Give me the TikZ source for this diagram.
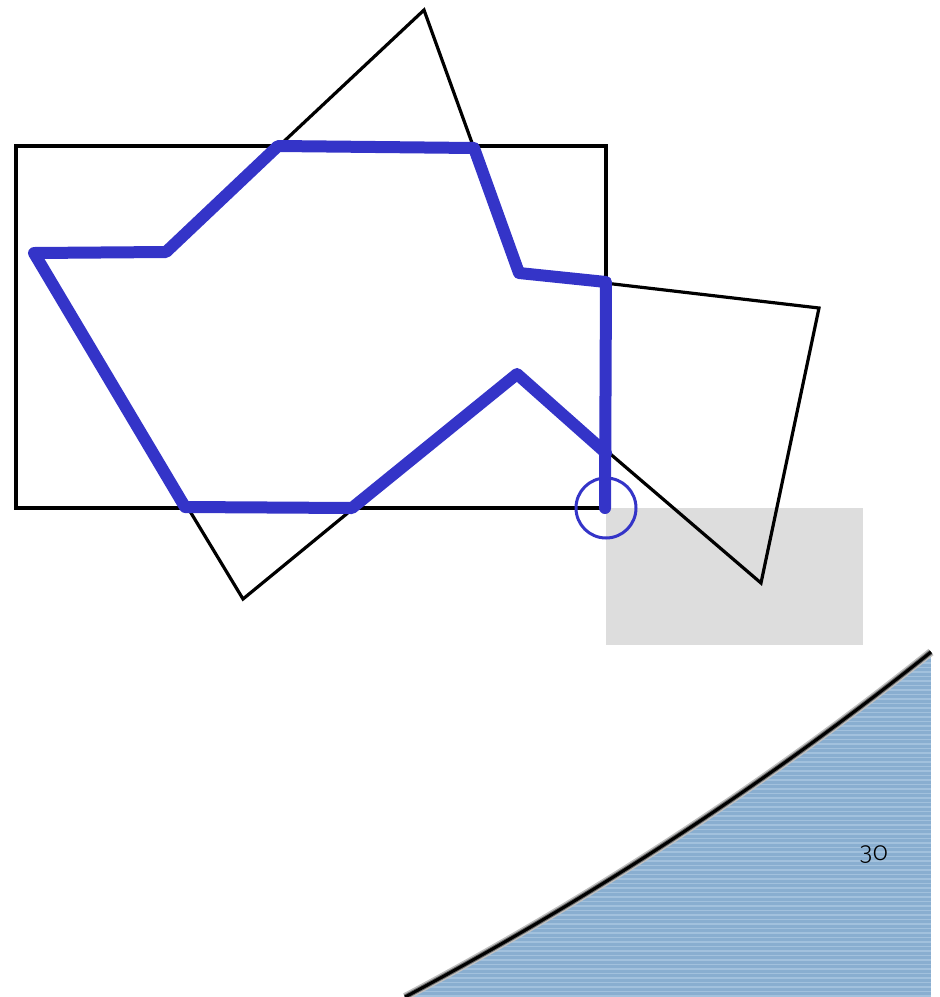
\documentclass[tikz,border=0pt]{standalone}
\usepackage{fontspec}
\usepackage{xcolor}
\usepackage{tikz}
\newfontfamily\pagefont[Numbers=OldStyle]{Fira Sans Light}
\definecolor{clipblue}{HTML}{3434C8}
\definecolor{outgray}{HTML}{DDDDDD}
\definecolor{seablue}{HTML}{89AED0}
\definecolor{seastripe}{HTML}{A2C1DD}

\begin{document}
\begin{tikzpicture}[x=1pt,y=-1pt, edge/.style={draw=black,line width=3.2pt,line join=miter}, clipped/.style={draw=clipblue,line width=12pt,line cap=round,line join=round}, marker/.style={draw=clipblue,line width=3pt}]
\useasboundingbox (0,0) rectangle (940,997);
% outside region and clip window
\fill[outgray] (606,508) rectangle (863,645);
\draw[edge] (16,146) rectangle (606,508);
% subject polygon
\coordinate (p1) at (424,10); \coordinate (p2) at (519,273); \coordinate (p3) at (819,308);
\coordinate (p4) at (761,583); \coordinate (p5) at (517,374); \coordinate (p6) at (243,599);
\coordinate (p7) at (34,253); \coordinate (p8) at (166,252);
\draw[edge] (p1)--(p2)--(p3)--(p4)--(p5)--(p6)--(p7)--(p8)--cycle;
% clipped result
\coordinate (c0) at (605,508); \coordinate (c1) at (606,282); \coordinate (c2) at (474,148);
\coordinate (c3) at (278,146); \coordinate (c4) at (185,507); \coordinate (c5) at (352,508);
\coordinate (c6) at (606,453);
\draw[clipped] (c0)--(c1)--(p2)--(c2)--(c3)--(p8)--(p7)--(c4)--(c5)--(p5)--(c6);
\draw[marker] (606,508) circle[radius=30];
% slide decoration
\begin{scope}
\clip (405,997) .. controls (580,904) and (756,792) .. (931,652) -- (931,997) -- cycle;
\fill[seablue] (380,640) rectangle (931,997);
\foreach \y in {645,649.5,...,997} \draw[seastripe,line width=1.5pt] (380,\y) -- (931,\y);
\end{scope}
\draw[black!25,line width=8pt] (405,997) .. controls (580,904) and (756,792) .. (931,652);
\draw[black!60,line width=5pt] (405,997) .. controls (580,904) and (756,792) .. (931,652);
\draw[black,line width=3pt] (405,997) .. controls (580,904) and (756,792) .. (931,652);
\node (page) at (874,855) {\pagefont\fontsize{26}{26}\selectfont 30};
\end{tikzpicture}
\end{document}
